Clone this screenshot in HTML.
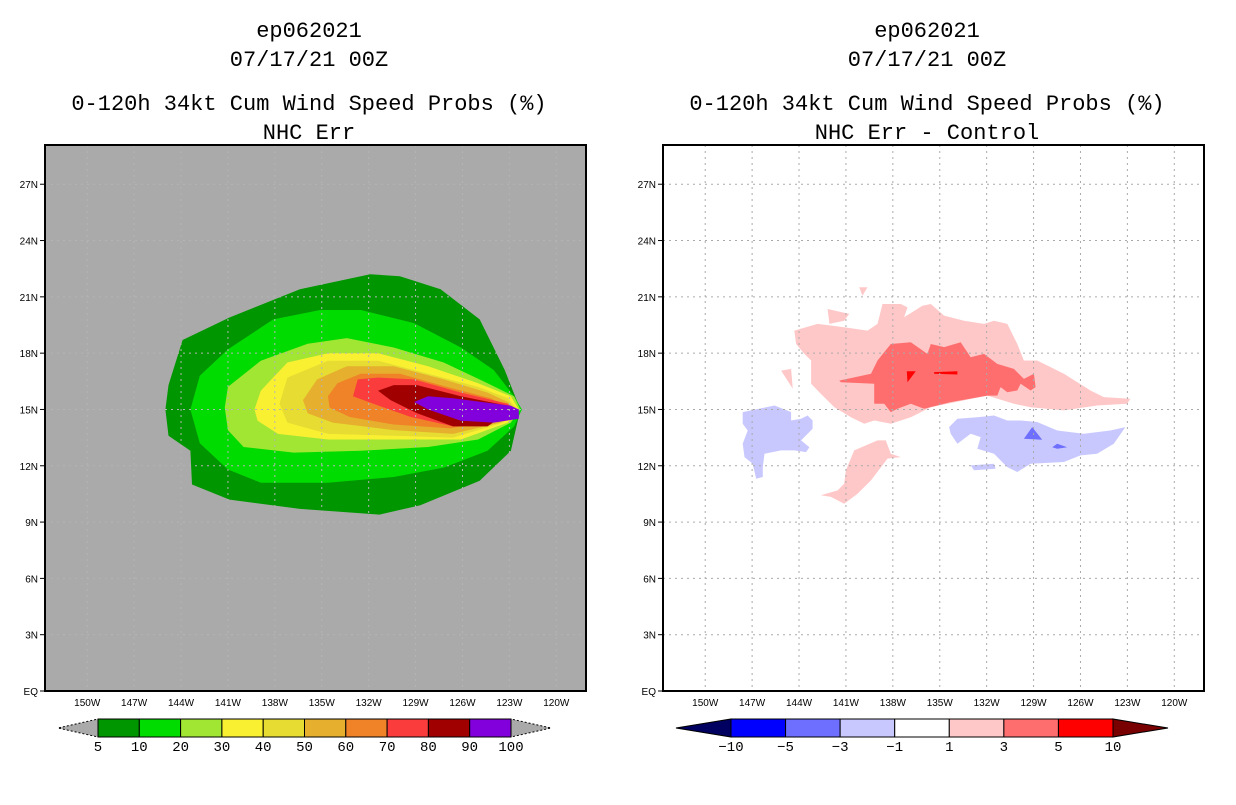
<!DOCTYPE html>
<html><head><meta charset="utf-8"><style>
html,body{margin:0;padding:0;background:#fff;}
.mono{font-family:"Liberation Mono",monospace;}
.sans{font-family:"Liberation Sans",sans-serif;}
</style></head><body>
<svg id="chart" width="1236" height="800" viewBox="0 0 1236 800" xmlns="http://www.w3.org/2000/svg">
<g id="titles" class="mono" font-size="22" fill="#000" text-anchor="middle">
<text x="309" y="37">ep062021</text>
<text x="309" y="66">07/17/21 00Z</text>
<text x="309" y="110">0-120h 34kt Cum Wind Speed Probs (%)</text>
<text x="309" y="139">NHC Err</text>
<text x="927" y="37">ep062021</text>
<text x="927" y="66">07/17/21 00Z</text>
<text x="927" y="110">0-120h 34kt Cum Wind Speed Probs (%)</text>
<text x="927" y="139">NHC Err - Control</text>
</g>
</svg>
<script>
// ---- data ----
const lonTicks = [-150,-147,-144,-141,-138,-135,-132,-129,-126,-123,-120];
const lonTickLabels = ["150W","147W","144W","141W","138W","135W","132W","129W","126W","123W","120W"];
const latTicks = [0,3,6,9,12,15,18,21,24,27];
const latTickLabels = ["EQ","3N","6N","9N","12N","15N","18N","21N","24N","27N"];

const probLevels = ["5","10","20","30","40","50","60","70","80","90","100"];
const probColors = ["#009600","#00dc00","#a0e632","#faf032","#e6dc32","#e6af2d","#f08228","#fa3c3c","#a00000","#8200dc"];
const diffLevels = ["-10","-5","-3","-1","1","3","5","10"];
const diffColors = ["#0000ff","#6e6eff","#c8c8ff","#ffffff","#ffc8c8","#ff6e6e","#ff0000"];

// contour polygons [lon,lat]
const p05 = [[-145.0,15.0],[-144.8,16.3],[-143.9,18.7],[-140.9,19.9],[-136.4,21.4],[-131.9,22.2],[-130.0,22.1],[-127.4,21.4],[-124.9,19.8],[-123.3,17.1],[-122.3,15.0],[-122.9,12.8],[-124.9,11.2],[-128.7,9.9],[-131.3,9.4],[-136.4,9.7],[-140.9,10.2],[-143.3,11.0],[-143.4,12.8],[-144.8,13.6]];
const p10 = [[-143.4,15.0],[-142.8,16.8],[-141.0,18.2],[-138.1,19.8],[-135.1,20.3],[-132.5,20.3],[-129.1,19.6],[-126.1,18.3],[-124.0,17.1],[-122.7,15.7],[-122.2,15.0],[-122.7,14.1],[-124.4,12.8],[-127.2,11.9],[-130.4,11.4],[-134.6,11.1],[-138.9,11.1],[-141.0,11.8],[-142.8,13.2]];
const p20 = [[-141.2,15.1],[-141.0,16.2],[-138.9,17.6],[-135.9,18.5],[-133.4,18.8],[-130.4,18.3],[-127.2,17.5],[-124.4,16.4],[-122.7,15.7],[-122.3,15.0],[-122.9,14.3],[-125.0,13.4],[-128.2,13.0],[-132.5,12.8],[-136.8,12.7],[-140.0,13.0],[-141.0,13.9]];
const p30 = [[-139.3,15.0],[-138.9,16.0],[-137.2,17.5],[-134.6,18.0],[-131.4,18.0],[-128.2,17.3],[-125.0,16.4],[-122.9,15.7],[-122.4,15.0],[-123.1,14.3],[-126.1,13.4],[-130.4,13.4],[-134.6,13.4],[-137.8,13.7],[-139.1,14.4]];
const p40 = [[-137.7,15.3],[-137.2,16.7],[-134.6,17.6],[-131.4,17.6],[-128.2,16.9],[-125.0,16.2],[-123.1,15.6],[-122.5,15.0],[-123.4,14.3],[-126.6,13.5],[-130.4,13.6],[-134.6,13.7],[-137.2,14.3]];
const p50 = [[-136.2,15.5],[-135.3,16.6],[-133.4,17.3],[-130.4,17.3],[-127.2,16.6],[-124.4,15.9],[-123.1,15.4],[-122.6,15.0],[-123.6,14.3],[-126.6,13.7],[-130.4,13.9],[-134.3,14.3],[-135.9,14.8]];
const p60 = [[-134.6,15.7],[-134.0,16.4],[-132.5,16.9],[-130.0,16.9],[-127.0,16.2],[-124.2,15.6],[-122.7,15.0],[-123.8,14.4],[-126.8,14.0],[-130.4,14.2],[-133.2,14.6],[-134.5,15.1]];
const p70 = [[-133.0,15.7],[-132.7,16.6],[-131.4,16.7],[-129.1,16.6],[-126.1,15.9],[-123.1,15.3],[-122.7,15.0],[-124.0,14.5],[-126.6,14.1],[-129.3,14.6],[-131.7,15.3]];
const p80 = [[-131.4,16.0],[-130.4,16.3],[-128.9,16.3],[-126.1,15.7],[-123.1,15.2],[-122.8,15.0],[-124.4,14.1],[-126.6,14.1],[-128.9,14.8],[-130.6,15.5]];
const p90 = [[-129.1,15.4],[-128.2,15.7],[-126.6,15.6],[-122.9,15.2],[-122.4,15.0],[-122.4,14.5],[-124.0,14.3],[-126.1,14.4],[-128.2,15.0]];

const pinkMain = [[-144.30,19.20],[-142.81,19.56],[-141.11,19.38],[-139.62,19.20],[-138.98,19.56],[-138.66,20.62],[-137.49,20.62],[-137.06,20.44],[-137.28,19.91],[-136.11,20.53],[-135.57,20.62],[-134.72,20.00],[-133.45,19.73],[-132.17,19.56],[-131.53,19.73],[-130.68,19.56],[-130.04,18.49],[-129.62,17.61],[-128.77,17.61],[-127.06,16.90],[-125.36,16.01],[-124.51,15.66],[-122.81,15.57],[-123.02,15.30],[-124.94,15.21],[-127.06,14.95],[-129.19,15.12],[-130.26,15.30],[-131.96,15.74],[-134.51,15.30],[-135.57,15.12],[-136.85,14.59],[-138.13,14.24],[-139.19,14.41],[-139.83,14.24],[-140.68,14.59],[-141.74,15.12],[-142.60,15.83],[-143.23,16.37],[-143.23,17.61],[-143.66,17.96],[-144.19,18.49]];
const pinkBits = [
 [[-142.17,20.35],[-140.79,20.09],[-141.11,19.73],[-142.06,19.56]],
 [[-145.15,17.07],[-144.51,17.16],[-144.40,16.10]],
 [[-140.15,21.51],[-139.62,21.51],[-139.94,21.06]],
 [[-141.0,11.76],[-140.47,12.82],[-138.98,13.35],[-138.45,13.35],[-138.13,12.64],[-137.49,12.46],[-138.34,12.38],[-139.40,11.22],[-140.26,10.51],[-141.11,9.98],[-141.96,10.34],[-142.60,10.43],[-141.53,10.69],[-141.11,11.05]]
];
const redMid = [[-141.43,16.54],[-139.40,16.90],[-138.98,17.61],[-138.13,18.49],[-136.85,18.58],[-135.79,17.96],[-135.57,18.49],[-134.72,18.32],[-133.66,18.58],[-133.02,17.78],[-132.17,17.96],[-131.32,17.43],[-130.26,17.16],[-129.62,16.63],[-128.98,16.90],[-128.87,16.19],[-129.19,16.01],[-129.83,16.37],[-130.04,16.01],[-130.68,15.92],[-131.11,16.19],[-131.32,15.74],[-131.96,15.74],[-134.30,15.39],[-136.00,15.04],[-136.85,15.30],[-137.70,15.04],[-138.13,14.86],[-138.55,15.30],[-139.19,15.30],[-139.19,16.37],[-141.32,16.45]];
const redHigh = [
 [[-137.11,17.04],[-136.53,17.04],[-137.06,16.45]],
 [[-135.36,16.99],[-133.87,17.04],[-133.87,16.86],[-135.36,16.90]]
];
const blueLight = [
 [[-147.60,14.86],[-147.06,14.95],[-145.57,15.21],[-144.51,14.86],[-144.51,14.41],[-143.87,14.50],[-143.45,14.68],[-143.13,14.41],[-143.13,13.97],[-143.87,13.35],[-143.34,12.99],[-143.55,12.73],[-144.30,12.82],[-145.15,12.82],[-146.21,12.64],[-146.32,11.93],[-146.32,11.40],[-146.74,11.31],[-146.96,12.11],[-147.49,12.46],[-147.60,13.17],[-147.28,13.88],[-147.60,14.24]],
 [[-134.40,14.06],[-133.87,14.50],[-132.60,14.59],[-131.53,14.68],[-130.68,14.41],[-129.83,14.41],[-128.77,14.33],[-127.49,13.88],[-125.79,13.71],[-124.09,13.88],[-123.13,14.06],[-123.87,13.17],[-124.94,12.64],[-126.00,12.55],[-127.06,12.20],[-129.19,12.11],[-130.04,11.67],[-130.68,11.93],[-131.53,12.64],[-132.60,12.91],[-132.38,13.53],[-133.02,13.71],[-133.87,13.17],[-134.30,13.71]],
 [[-133.02,12.02],[-131.53,12.11],[-131.43,11.84],[-132.81,11.76]]
];
const blueMid = [
 [[-129.62,13.44],[-129.09,14.06],[-128.45,13.39]],
 [[-127.81,12.99],[-127.49,13.17],[-126.85,12.99],[-127.49,12.91]]
];

// ---- drawing ----
const NS = "http://www.w3.org/2000/svg";
const svg = document.getElementById("chart");
function mk(tag, attrs, parent){const e=document.createElementNS(NS,tag);for(const k in attrs)e.setAttribute(k,attrs[k]);(parent||svg).appendChild(e);return e;}

const LON0=-152.7, LON1=-118.1, LAT0=0, LAT1=29.09;
function makePanel(x0){
  const x1=x0+541, y0=145, y1=691;
  return {x0,x1,y0,y1,
    sx:lon=>x0+(lon-LON0)/(LON1-LON0)*(x1-x0),
    sy:lat=>y1-(lat-LAT0)/(LAT1-LAT0)*(y1-y0)};
}
const L = makePanel(45), R = makePanel(663);

function poly(p, pts, fill, name, parent){
  const d = pts.map(q=>p.sx(q[0]).toFixed(1)+","+p.sy(q[1]).toFixed(1)).join(" ");
  const e = mk("polygon",{points:d,fill:fill},parent);
  
  
  return e;
}

function drawAxes(p, prefix, gridColor){
  const g = mk("g",{});
  
  
  lonTicks.forEach(lon=>{
    const x=p.sx(lon);
    const l=mk("line",{x1:x,x2:x,y1:p.y0,y2:p.y1,stroke:gridColor,"stroke-width":1,"stroke-dasharray":"2,4"},g);
    
    
  });
  latTicks.forEach(lat=>{
    if(lat===0) return;
    const y=p.sy(lat);
    const l=mk("line",{x1:p.x0,x2:p.x1,y1:y,y2:y,stroke:gridColor,"stroke-width":1,"stroke-dasharray":"2,4"},g);
    
    
  });
  const fr = mk("rect",{x:p.x0,y:p.y0,width:p.x1-p.x0,height:p.y1-p.y0,fill:"none",stroke:"#000","stroke-width":2});
  
  
  const xa = mk("g",{"font-size":"10","text-anchor":"middle",fill:"#000","class":"sans"});
  
  
  lonTicks.forEach((lon,i)=>{
    const t=mk("text",{x:p.sx(lon),y:p.y1+15},xa);
    t.textContent=lonTickLabels[i];
    
    
  });
  const ya = mk("g",{"font-size":"10","text-anchor":"end",fill:"#000","class":"sans"});
  
  
  latTicks.forEach((lat,i)=>{
    const y=p.sy(lat);
    mk("line",{x1:p.x0-5,x2:p.x0,y1:y,y2:y,stroke:"#000","stroke-width":1},ya);
    const t=mk("text",{x:p.x0-7,y:y+4},ya);
    t.textContent=latTickLabels[i];
    
    
  });
}

// left panel
const lbg = mk("rect",{x:L.x0,y:L.y0,width:L.x1-L.x0,height:L.y1-L.y0,fill:"#aaaaaa"});


const leftPolys=[p05,p10,p20,p30,p40,p50,p60,p70,p80,p90];
leftPolys.forEach((pp,i)=>poly(L,pp,probColors[i],'prob-contour-'+probLevels[i]));
drawAxes(L,'left',"#b4b4b4");

// right panel
const rbg = mk("rect",{x:R.x0,y:R.y0,width:R.x1-R.x0,height:R.y1-R.y0,fill:"#ffffff"});


poly(R,pinkMain,diffColors[4],'diff-contour-1-3-main');
pinkBits.forEach(pp=>poly(R,pp,diffColors[4],'diff-contour-1-3-patch'));
poly(R,redMid,diffColors[5],'diff-contour-3-5');
redHigh.forEach(pp=>poly(R,pp,diffColors[6],'diff-contour-5-10'));
blueLight.forEach(pp=>poly(R,pp,diffColors[2],'diff-contour-neg1-neg3'));
blueMid.forEach(pp=>poly(R,pp,diffColors[1],'diff-contour-neg3-neg5'));
drawAxes(R,'right',"#aaaaaa");

// colorbars
function colorbar(prefix, bx0, bx1, levels, colors, lowCol, highCol, triW){
  const g = mk("g",{});
  
  
  const y0=719,y1=737,ym=728;
  const n=colors.length, w=(bx1-bx0)/n;
  const lt=mk("polygon",{points:`${bx0},${y0} ${bx0},${y1} ${bx0-triW},${ym}`,fill:lowCol,stroke:"#000","stroke-width":1,"stroke-dasharray":lowCol==="#aaaaaa"?"2,2":"none"},g);
  
  
  const rt=mk("polygon",{points:`${bx1},${y0} ${bx1},${y1} ${bx1+triW},${ym}`,fill:highCol,stroke:"#000","stroke-width":1,"stroke-dasharray":highCol==="#aaaaaa"?"2,2":"none"},g);
  
  
  colors.forEach((c,i)=>{
    const r=mk("rect",{x:bx0+i*w,y:y0,width:w,height:y1-y0,fill:c,stroke:"#000","stroke-width":1},g);
    
    
  });
  levels.forEach((lv,i)=>{
    const t=mk("text",{x:bx0+i*w,y:751,"font-size":"14","text-anchor":"middle",fill:"#000","class":"mono"},g);
    t.textContent=lv.replace("-","\u2212");
    
    
  });
}
colorbar('left',98,511,probLevels,probColors,"#aaaaaa","#aaaaaa",40);
colorbar('right',731,1113,diffLevels,diffColors,"#000060","#780000",55);
</script>
</body></html>
